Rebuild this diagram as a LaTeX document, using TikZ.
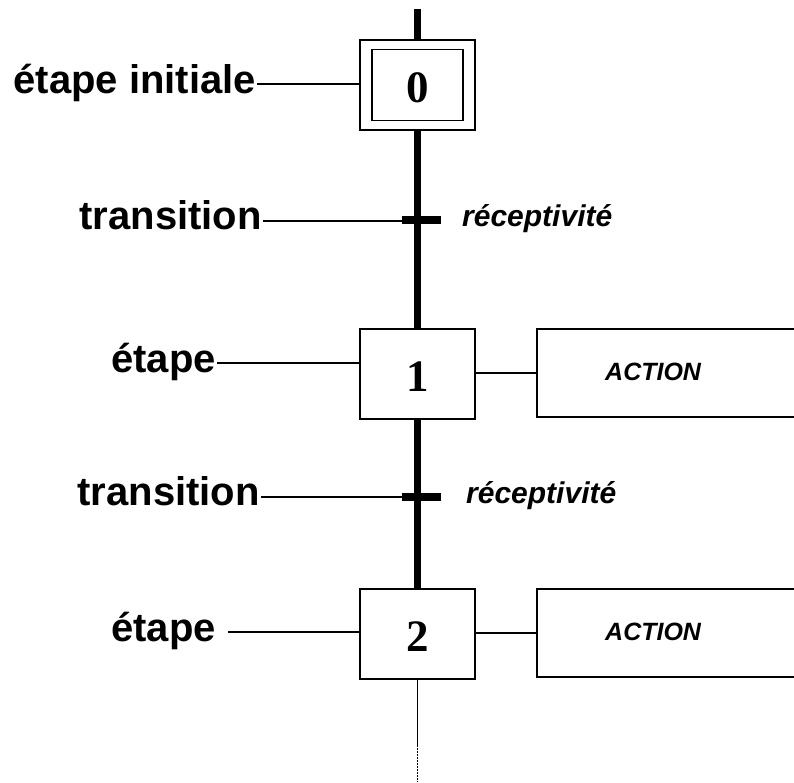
\documentclass[tikz,border=0pt]{standalone}
\usepackage{fontspec}
\setmainfont{Liberation Sans}
\newfontfamily\numfont{Liberation Serif}
\begin{document}
\begin{tikzpicture}[x=1pt,y=-1pt,
  thinline/.style={line width=1.5pt},
  link/.style={line width=7pt},
  stepbox/.style={draw, line width=1.5pt, minimum width=115pt, minimum height=90pt, inner sep=0pt},
  innerbox/.style={draw, line width=1.5pt, minimum width=91pt, minimum height=71pt, inner sep=0pt},
  actionbox/.style={draw, line width=1.5pt, minimum width=320pt, minimum height=88pt, inner sep=0pt, anchor=west},
  tbar/.style={fill=black, minimum width=39pt, minimum height=8pt, inner sep=0pt},
  lbl/.style={font=\fontsize{40}{46}\selectfont\bfseries, inner sep=0pt, anchor=base east},
  rcp/.style={font=\fontsize{30}{36}\selectfont\bfseries\itshape, inner sep=0pt, anchor=base west},
  act/.style={font=\fontsize{25}{30}\selectfont\bfseries\itshape, inner sep=0pt, anchor=base west},
  num/.style={font=\fontsize{45}{50}\selectfont\numfont\bfseries, inner sep=0pt, anchor=base}]
\clip (0,0) rectangle (794,782);

% steps
\node[stepbox] (s0) at (417.5,85) {};
\node[innerbox] (s0in) at (417.5,85) {};
\node[num] (n0) at (417.5,102) {0};
\node[stepbox] (s1) at (417.5,374) {};
\node[num] (n1) at (417.5,391) {1};
\node[stepbox] (s2) at (417.5,634) {};
\node[num] (n2) at (417.5,651) {2};

% actions
\node[actionbox] (a1) at (536,373) {};
\node[act] (t1) at (605,380) {ACTION};
\node[actionbox] (a2) at (536,633) {};
\node[act] (t2) at (605,640) {ACTION};

% links between steps
\coordinate (top) at (417.5,9);
\coordinate (bottom) at (417.5,745);
\coordinate (end) at (417.5,782);
\draw[link] (top) -- (s0.north);
\draw[link] (s0.south) -- (s1.north);
\draw[link] (s1.south) -- (s2.north);
\draw[thinline] (s2.south) -- (bottom);
\draw[thinline, dash pattern=on 1.5pt off 1.5pt] (bottom) -- (end);

% transitions
\node[tbar] (tr1) at (421.5,220) {};
\node[tbar] (tr2) at (421.5,497) {};
\node[rcp] (r1) at (462,226) {réceptivité};
\node[rcp] (r2) at (466,503) {réceptivité};

% step to action connectors
\draw[thinline] (s1.east |- a1.west) -- (a1.west);
\draw[thinline] (s2.east |- a2.west) -- (a2.west);

% annotations
\node[lbl] (l0) at (256,93) {étape initiale};
\coordinate (c0) at (257,84);
\draw[thinline] (c0) -- (s0.west |- c0);

\node[lbl] (l1) at (262,229) {transition};
\coordinate (c1) at (263,221);
\draw[thinline] (c1) -- (tr1.west |- c1);

\node[lbl] (l2) at (216,372) {étape};
\coordinate (c2) at (217,363);
\draw[thinline] (c2) -- (s1.west |- c2);

\node[lbl] (l3) at (260,505) {transition};
\coordinate (c3) at (261,497);
\draw[thinline] (c3) -- (tr2.west |- c3);

\node[lbl] (l4) at (216,641) {étape};
\coordinate (c4) at (228,632);
\draw[thinline] (c4) -- (s2.west |- c4);
\end{tikzpicture}
\end{document}
